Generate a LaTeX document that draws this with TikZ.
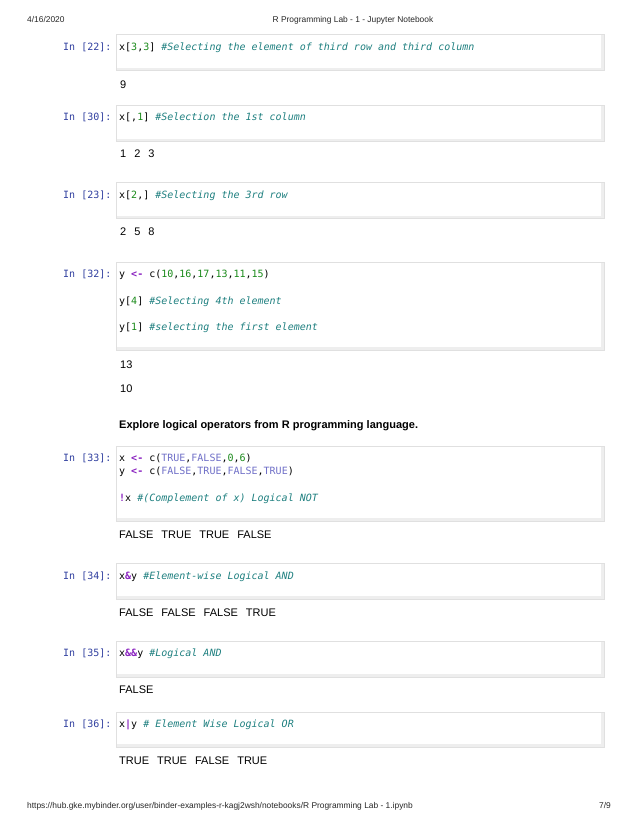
\documentclass[tikz,border=0pt]{standalone}
\usepackage{fontspec}
\setmainfont{Liberation Sans}
\setmonofont{DejaVu Sans Mono}
\usepackage{tikz}
\definecolor{promptblue}{HTML}{303F9F}
\definecolor{commentteal}{HTML}{1F8080}
\definecolor{numgreen}{HTML}{1A8A1A}
\definecolor{kwpurple}{HTML}{8A22C0}
\definecolor{atomblue}{HTML}{7070C8}
\definecolor{cellgray}{HTML}{E0E0E0}
\definecolor{bandgray}{HTML}{EEEEEE}
\newcommand{\cmt}[1]{\textcolor{commentteal}{\itshape #1}}
\newcommand{\num}[1]{\textcolor{numgreen}{#1}}
\newcommand{\kw}[1]{\textcolor{kwpurple}{\bfseries #1}}
\newcommand{\atom}[1]{\textcolor{atomblue}{#1}}
\newcommand{\outgap}{\hspace{8pt}}
\begin{document}
\begin{tikzpicture}[x=1pt,y=-1pt,
  cell box/.style={draw=cellgray,fill=white,line width=1pt,minimum width=488pt,inner sep=0pt,
    path picture={
      \fill[bandgray] ([yshift=3pt]path picture bounding box.south west) rectangle (path picture bounding box.south east);
      \fill[bandgray] ([xshift=-3pt]path picture bounding box.south east) rectangle (path picture bounding box.north east);
    }},
  prompt/.style={anchor=base west,inner sep=0pt,font=\ttfamily\fontsize{10}{12}\selectfont,text=promptblue},
  code/.style={anchor=base west,inner sep=0pt,font=\ttfamily\fontsize{10}{12}\selectfont,text=black},
  output/.style={anchor=base west,inner sep=0pt,font=\fontsize{11}{13}\selectfont,text=black},
  page text/.style={inner sep=0pt,font=\fontsize{8.4}{10}\selectfont,text=black!85}]
  \useasboundingbox (0,0) rectangle (638,826);
  \node[page text,anchor=base west] (date) at (27,23) {4/16/2020};
  \node[page text,anchor=base] (title) at (353,23) {R Programming Lab - 1 - Jupyter Notebook};

  \node[cell box,minimum height=36pt] (c22) at (360,53) {};
  \node[cell box,minimum height=36pt] (c30) at (360,124) {};
  \node[cell box,minimum height=36pt] (c23) at (360,201) {};
  \node[cell box,minimum height=88pt] (c32) at (360,306) {};
  \node[cell box,minimum height=75pt] (c33) at (360,483.5) {};
  \node[cell box,minimum height=36pt] (c34) at (360,581) {};
  \node[cell box,minimum height=36pt] (c35) at (360,659) {};
  \node[cell box,minimum height=35pt] (c36) at (360,729.5) {};

  \node[prompt] (p22) at (63,51) {In [22]:};
  \node[code] (t22) at (119,51) {x[\num{3},\num{3}] \cmt{\#Selecting the element of third row and third column}};
  \node[output] (o22) at (120,89) {9};

  \node[prompt] (p30) at (63,121) {In [30]:};
  \node[code] (t30) at (119,121) {x[,\num{1}] \cmt{\#Selection the 1st column}};
  \node[output] (o30) at (120,158) {1\outgap 2\outgap 3};

  \node[prompt] (p23) at (63,199) {In [23]:};
  \node[code] (t23) at (119,199) {x[\num{2},] \cmt{\#Selecting the 3rd row}};
  \node[output] (o23) at (120,236) {2\outgap 5\outgap 8};

  \node[prompt] (p32) at (63,277) {In [32]:};
  \node[code] (t32a) at (119,277) {y \kw{<-} c(\num{10},\num{16},\num{17},\num{13},\num{11},\num{15})};
  \node[code] (t32b) at (119,304) {y[\num{4}] \cmt{\#Selecting 4th element}};
  \node[code] (t32c) at (119,330) {y[\num{1}] \cmt{\#selecting the first element}};
  \node[output] (o32a) at (120,368) {13};
  \node[output] (o32b) at (120,392) {10};

  \node[output,font=\bfseries\fontsize{11}{13}\selectfont] (head) at (119,428) {Explore logical operators from R programming language.};

  \node[prompt] (p33) at (63,461) {In [33]:};
  \node[code] (t33a) at (119,461) {x \kw{<-} c(\atom{TRUE},\atom{FALSE},\num{0},\num{6})};
  \node[code] (t33b) at (119,474) {y \kw{<-} c(\atom{FALSE},\atom{TRUE},\atom{FALSE},\atom{TRUE})};
  \node[code] (t33c) at (119,501) {\kw{!}x \cmt{\#(Complement of x) Logical NOT}};
  \node[output] (o33) at (119,538) {FALSE\outgap TRUE\outgap TRUE\outgap FALSE};

  \node[prompt] (p34) at (63,579) {In [34]:};
  \node[code] (t34) at (119,579) {x\kw{\&}y \cmt{\#Element-wise Logical AND}};
  \node[output] (o34) at (119,616) {FALSE\outgap FALSE\outgap FALSE\outgap TRUE};

  \node[prompt] (p35) at (63,656) {In [35]:};
  \node[code] (t35) at (119,656) {x\kw{\&\&}y \cmt{\#Logical AND}};
  \node[output] (o35) at (119,693) {FALSE};

  \node[prompt] (p36) at (63,727) {In [36]:};
  \node[code] (t36) at (119,727) {x\kw{|}y \cmt{\# Element Wise Logical OR}};
  \node[output] (o36) at (119,764) {TRUE\outgap TRUE\outgap FALSE\outgap TRUE};

  \node[page text,anchor=base west] (url) at (27,808) {https://hub.gke.mybinder.org/user/binder-examples-r-kagj2wsh/notebooks/R Programming Lab - 1.ipynb};
  \node[page text,anchor=base east] (pageno) at (611,808) {7/9};
\end{tikzpicture}
\end{document}
